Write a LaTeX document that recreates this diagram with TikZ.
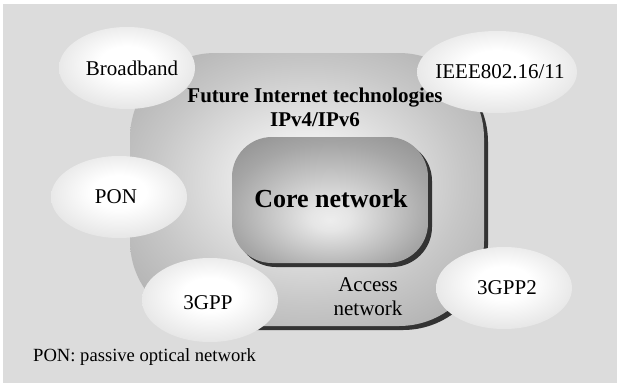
\documentclass[tikz,border=0pt]{standalone}
\usepackage{fontspec}
\setmainfont{Liberation Serif}
\usetikzlibrary{shapes.geometric,shadings}
\definecolor{bggray}{HTML}{DCDCDC}
\definecolor{ellgray}{HTML}{C4C4C4}
\definecolor{shadowgray}{HTML}{333333}
\pgfdeclareradialshading{ellshade}{\pgfpoint{0bp}{4bp}}{color(0bp)=(white); color(10bp)=(white); color(50bp)=(ellgray)}
\pgfdeclareradialshading{boxshade}{\pgfpoint{0bp}{2bp}}{color(0bp)=(white); color(6bp)=(black!5); color(22bp)=(black!22); color(38bp)=(black!36); color(50bp)=(black!44)}
\pgfdeclareradialshading{coreshade}{\pgfpoint{0bp}{-8bp}}{color(0bp)=(white!93!black); color(5bp)=(white!90!black); color(26bp)=(black!35); color(50bp)=(black!56)}
\tikzset{
  cloud/.style={ellipse, draw=none, shading=ellshade, inner sep=0pt},
  lbl/.style={font=\fontsize{21}{24}\selectfont, inner sep=0pt},
  boldlbl/.style={font=\fontsize{21}{24}\selectfont\bfseries, inner sep=0pt, align=center},
}
\begin{document}
\begin{tikzpicture}[x=1pt,y=-1pt]
\useasboundingbox (0,0) rectangle (617,383);
\fill[white] (0,0) rectangle (617,383);
\fill[bggray] (3,4) rectangle (617,383);
% access network box
\fill[shadowgray, rounded corners=85pt] (134,57) rectangle (488,330);
\shade[shading=boxshade, rounded corners=85pt] (130,53) rectangle (484,326);
% core box
\fill[shadowgray, rounded corners=40pt] (236,141) rectangle (432,267);
\shade[shading=coreshade, rounded corners=40pt] (232,137) rectangle (428,263);
% clouds
\node[cloud, minimum width=136pt, minimum height=82pt] (bb) at (127,68) {};
\node[cloud, minimum width=160pt, minimum height=82pt] (ieee) at (497,72) {};
\node[cloud, minimum width=136pt, minimum height=82pt] (pon) at (119,197) {};
\node[cloud, minimum width=136pt, minimum height=84pt] (g3) at (210,300) {};
\node[cloud, minimum width=136pt, minimum height=82pt] (g32) at (504,288) {};
% texts
\node[font=\fontsize{26}{30}\selectfont\bfseries, inner sep=0pt] (core) at (331,199) {Core network};
\node[boldlbl] (fit) at (315,98) {Future Internet technologies};
\node[boldlbl] (ip) at (315,120) {IPv4/IPv6};
\node[lbl, align=center] (acc) at (368,297) {Access\\network};
\node[lbl] (bbt) at (132,68) {Broadband};
\node[lbl] (ieeet) at (500,72) {IEEE802.16/11};
\node[lbl] (pont) at (116,197) {PON};
\node[lbl] (g3t) at (208,303) {3GPP};
\node[lbl] (g32t) at (507,288) {3GPP2};
\node[font=\fontsize{18.6}{22}\selectfont, inner sep=0pt, anchor=west] (foot) at (33,357) {PON: passive optical network};
\end{tikzpicture}
\end{document}
